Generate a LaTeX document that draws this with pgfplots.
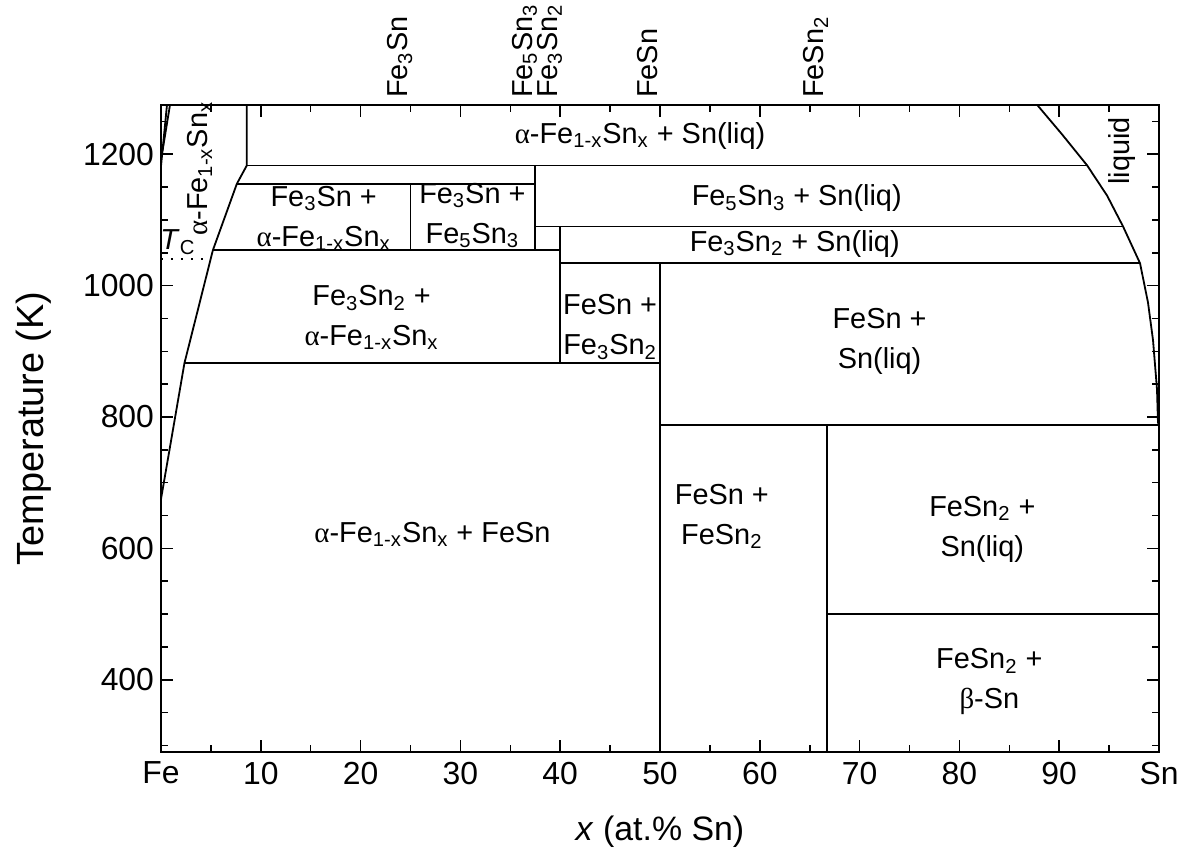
\documentclass[border=0pt]{standalone}
\usepackage{fontspec}
\setmainfont{Liberation Sans}
\newfontfamily\symfont{Liberation Serif}
\usepackage{pgfplots}
\pgfplotsset{compat=1.18}
\newcommand{\al}{{\symfont α}}
\newcommand{\be}{{\symfont β}}
\newcommand{\aFe}{\al-Fe\textsubscript{1-x}Sn\textsubscript{x}}
\newcommand{\sub}[1]{\textsubscript{#1}}
\tikzset{lbl/.style={font=\fontsize{14.5}{20}\selectfont, align=center},
  top/.style={lbl, rotate=90, anchor=mid west, yshift=4bp},
  pl/.style={black, solid, no markers, line width=0.9bp}}
\begin{document}
\begin{tikzpicture}
\begin{axis}[name=ax, scale only axis, width=499bp, height=323.5bp,
  xmin=0, xmax=100, ymin=290, ymax=1275,
  xtick={0,10,...,100}, xticklabels={Fe,10,20,30,40,50,60,70,80,90,Sn},
  minor x tick num=1,
  ytick={400,600,...,1200}, minor ytick={300,350,...,1250},
  tick align=inside, major tick length=6bp, minor tick length=3.5bp,
  every tick/.style={black, line width=0.8bp},
  axis line style={line width=1bp},
  tick label style={font=\fontsize{16}{18}\selectfont},
  xticklabel style={yshift=-1.5bp},
  /pgf/number format/assume math mode=true,
  /pgf/number format/1000 sep={},
  xlabel={\textit{x} (at.\% Sn)}, ylabel={Temperature (K)},
  xlabel style={font=\fontsize{17}{20}\selectfont},
  ylabel style={font=\fontsize{19}{22}\selectfont},
  xlabel shift=9bp, ylabel shift=9bp,
  clip=false,
]
% alpha-Fe solvus
\addplot[pl] coordinates {(0,675) (2.35,882) (5.2,1054) (7.6,1155) (8.6,1183) (8.6,1275)};
% gamma loop
\addplot[pl] coordinates {(0,1182) (0.6,1275)};
\addplot[pl] coordinates {(0.15,1205) (0.9,1275)};
% Curie temperature
\addplot[pl, dash pattern=on 1bp off 4bp] coordinates {(0,1040) (4.9,1040)};
% horizontals
\addplot[pl] coordinates {(8.6,1183) (92.8,1183)};
\addplot[pl] coordinates {(7.6,1155) (37.5,1155)};
\addplot[pl] coordinates {(5.2,1054) (40,1054)};
\addplot[pl] coordinates {(37.5,1090) (96.4,1090)};
\addplot[pl] coordinates {(40,1034) (98.1,1034)};
\addplot[pl] coordinates {(2.35,882) (50,882)};
\addplot[pl] coordinates {(50,788) (100,788)};
\addplot[pl] coordinates {(66.7,500) (100,500)};
% verticals
\addplot[pl] coordinates {(25,1155) (25,1054)};
\addplot[pl] coordinates {(37.5,1183) (37.5,1054)};
\addplot[pl] coordinates {(40,1090) (40,882)};
\addplot[pl] coordinates {(50,1034) (50,290)};
\addplot[pl] coordinates {(66.7,788) (66.7,290)};
% liquidus
\addplot[pl] coordinates {(87.8,1275) (90.3,1230) (92.8,1183) (94.8,1137) (96.4,1090) (98.1,1034) (98.9,974) (99.4,917) (99.8,842) (99.9,790)};

% region labels
\node[lbl] at (axis cs:48,1228) {\aFe{} + Sn(liq)};
\node[lbl] at (axis cs:16.3,1102) {Fe\sub{3}Sn +\\ \aFe};
\node[lbl] at (axis cs:31.2,1107) {Fe\sub{3}Sn +\\Fe\sub{5}Sn\sub{3}};
\node[lbl] at (axis cs:63.7,1133) {Fe\sub{5}Sn\sub{3} + Sn(liq)};
\node[lbl] at (axis cs:63.5,1064) {Fe\sub{3}Sn\sub{2} + Sn(liq)};
\node[lbl] at (axis cs:21.1,951) {Fe\sub{3}Sn\sub{2} +\\ \aFe};
\node[lbl] at (axis cs:45,937) {FeSn +\\Fe\sub{3}Sn\sub{2}};
\node[lbl] at (axis cs:72,915) {FeSn +\\Sn(liq)};
\node[lbl] at (axis cs:27.2,621) {\aFe{} + FeSn};
\node[lbl] at (axis cs:56.2,648) {FeSn +\\FeSn\sub{2}};
\node[lbl] at (axis cs:82.3,629) {FeSn\sub{2} +\\Sn(liq)};
\node[lbl] at (axis cs:83,397) {FeSn\sub{2} +\\\be-Sn};
\node[lbl, rotate=90] at (axis cs:96.3,1205) {liquid};
\node[lbl, rotate=90] at (axis cs:3.9,1178) {\aFe};
\node[lbl] at (axis cs:1.7,1066) {\textit{T}\sub{C}};
% compound labels on top
\node[top] at (axis cs:25,1275) {Fe\sub{3}Sn};
\node[top] at (axis cs:37.5,1275) {Fe\sub{5}Sn\sub{3}};
\node[top] at (axis cs:40,1275) {Fe\sub{3}Sn\sub{2}};
\node[top] at (axis cs:50,1275) {FeSn};
\node[top] at (axis cs:66.7,1275) {FeSn\sub{2}};
\end{axis}
\pgfresetboundingbox
\path ([shift={(-80.5bp,-48bp)}]ax.south west) rectangle ([shift={(15bp,52.5bp)}]ax.north east);
\end{tikzpicture}
\end{document}
